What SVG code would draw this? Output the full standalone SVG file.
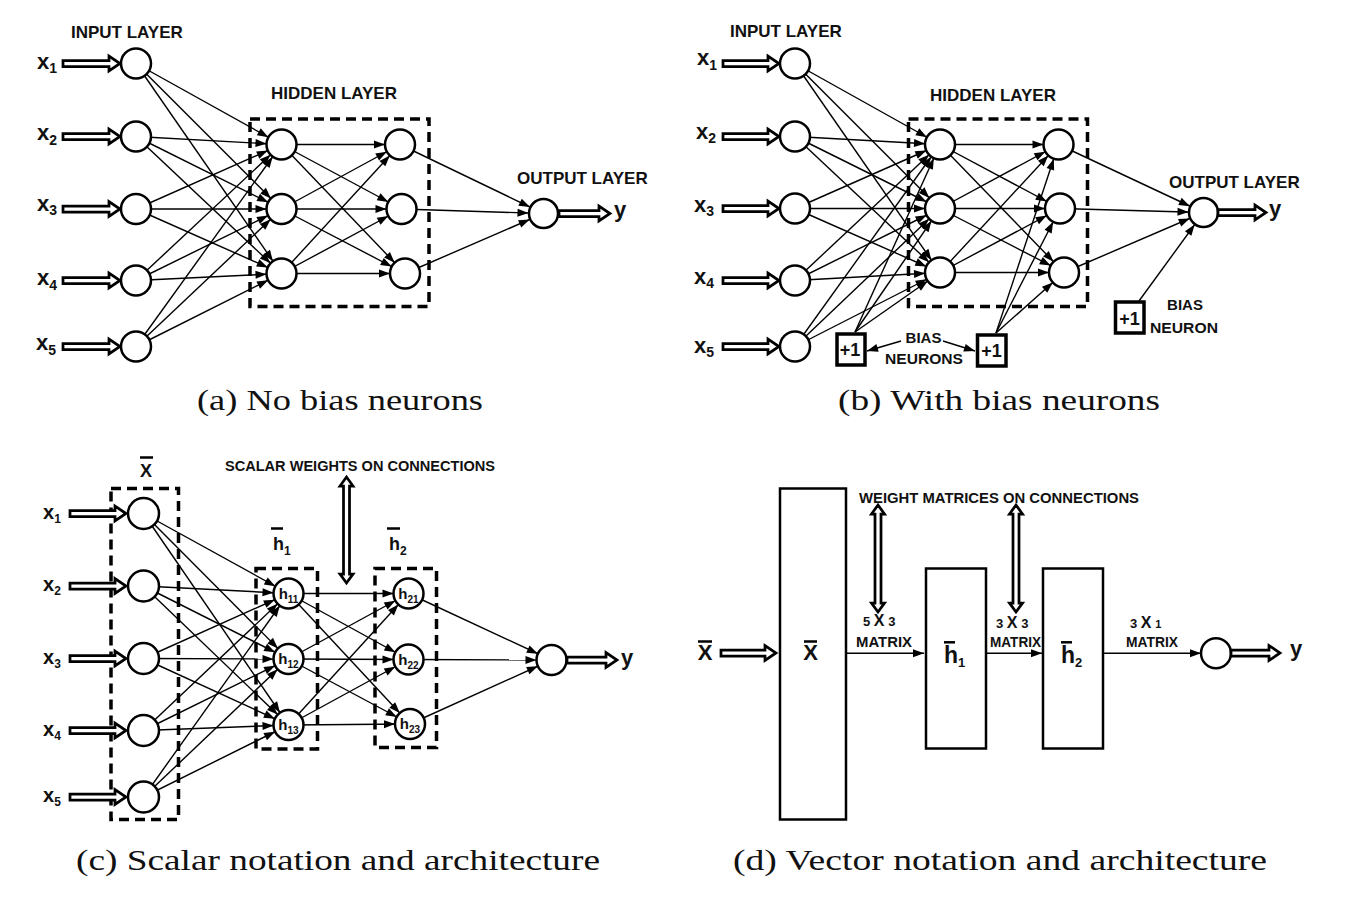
<svg xmlns="http://www.w3.org/2000/svg" width="1360" height="900" viewBox="0 0 1360 900">
<defs>
<marker id="ah" markerUnits="userSpaceOnUse" viewBox="0 0 11 8" markerWidth="11" markerHeight="8" refX="26" refY="4" orient="auto" overflow="visible"><path d="M0,0 L11,4 L0,8 z" fill="#000"/></marker>
<marker id="at" markerUnits="userSpaceOnUse" viewBox="0 0 11 8" markerWidth="11" markerHeight="8" refX="11" refY="4" orient="auto" overflow="visible"><path d="M0,0 L11,4 L0,8 z" fill="#000"/></marker>
</defs>
<style>
.n{fill:#fff;stroke:#000;stroke-width:2.5}
.e line{stroke:#000;stroke-width:1.4;marker-end:url(#ah)}
.et line{stroke:#000;stroke-width:1.4;marker-end:url(#at)}
.dash{fill:none;stroke:#000;stroke-width:3.5;stroke-dasharray:10 6}
.rect{fill:#fff;stroke:#000;stroke-width:2.5}
.ha{fill:#fff;stroke:#000;stroke-width:2.75;stroke-linejoin:miter}
.box{fill:#fff;stroke:#000;stroke-width:3.5}
.ob{stroke:#000;stroke-width:2.5}
.lbl{font-family:"Liberation Sans",Arial,sans-serif;font-weight:bold;fill:#111}
.ly{font-size:17px}
.xl{font-size:22px}
.xs{font-size:14px}
.xlc{font-size:20px}
.xsc{font-size:12px}
.hn{font-size:15px}
.hs{font-size:10px}
.sm{font-size:14.5px}
.bi{font-size:15px}
.p1{font-size:18px}
.cap{font-family:"Liberation Serif","Times New Roman",serif;font-size:30px;fill:#111}
</style>
<rect width="1360" height="900" fill="#fff"/>

<!-- ================= PANEL A ================= -->
<g id="panel-a">
<text class="lbl ly" x="71" y="38">INPUT LAYER</text>
<text class="lbl ly" x="271" y="99">HIDDEN LAYER</text>
<text class="lbl ly" x="517" y="184">OUTPUT LAYER</text>
<rect id="a-hidden-box" class="dash" x="250" y="119" width="179" height="187.5"/>
<g id="a-connectors" class="e">
<line x1="136" y1="63.5" x2="281.5" y2="144.5"/><line x1="136" y1="63.5" x2="281.5" y2="209"/><line x1="136" y1="63.5" x2="281.5" y2="273.5"/>
<line x1="136" y1="136.5" x2="281.5" y2="144.5"/><line x1="136" y1="136.5" x2="281.5" y2="209"/><line x1="136" y1="136.5" x2="281.5" y2="273.5"/>
<line x1="136" y1="209" x2="281.5" y2="144.5"/><line x1="136" y1="209" x2="281.5" y2="209"/><line x1="136" y1="209" x2="281.5" y2="273.5"/>
<line x1="136" y1="280.5" x2="281.5" y2="144.5"/><line x1="136" y1="280.5" x2="281.5" y2="209"/><line x1="136" y1="280.5" x2="281.5" y2="273.5"/>
<line x1="136" y1="346.5" x2="281.5" y2="144.5"/><line x1="136" y1="346.5" x2="281.5" y2="209"/><line x1="136" y1="346.5" x2="281.5" y2="273.5"/>
<line x1="281.5" y1="144.5" x2="400" y2="144.5"/><line x1="281.5" y1="144.5" x2="401.5" y2="209"/><line x1="281.5" y1="144.5" x2="405" y2="273.5"/>
<line x1="281.5" y1="209" x2="400" y2="144.5"/><line x1="281.5" y1="209" x2="401.5" y2="209"/><line x1="281.5" y1="209" x2="405" y2="273.5"/>
<line x1="281.5" y1="273.5" x2="400" y2="144.5"/><line x1="281.5" y1="273.5" x2="401.5" y2="209"/><line x1="281.5" y1="273.5" x2="405" y2="273.5"/>
<line x1="400" y1="144.5" x2="543.5" y2="213.5"/><line x1="401.5" y1="209" x2="543.5" y2="213.5"/><line x1="405" y1="273.5" x2="543.5" y2="213.5"/>
</g>
<g id="a-x1"><text class="lbl xl" x="37" y="68.5">x<tspan class="xs" dy="4.5">1</tspan></text><path class="ha" d="M63,60.5 H109 V56 L120,63.5 L109,71 V66.5 H63 Z"/><circle class="n" cx="136" cy="63.5" r="15"/></g>
<g id="a-x2"><text class="lbl xl" x="37" y="140">x<tspan class="xs" dy="4.5">2</tspan></text><path class="ha" d="M63,133.5 H109 V129 L120,136.5 L109,144 V139.5 H63 Z"/><circle class="n" cx="136" cy="136.5" r="15"/></g>
<g id="a-x3"><text class="lbl xl" x="37" y="210.5">x<tspan class="xs" dy="4.5">3</tspan></text><path class="ha" d="M63,206 H109 V201.5 L120,209 L109,216.5 V212 H63 Z"/><circle class="n" cx="136" cy="209" r="15"/></g>
<g id="a-x4"><text class="lbl xl" x="37" y="285">x<tspan class="xs" dy="4.5">4</tspan></text><path class="ha" d="M63,277.5 H109 V273 L120,280.5 L109,288 V283.5 H63 Z"/><circle class="n" cx="136" cy="280.5" r="15"/></g>
<g id="a-x5"><text class="lbl xl" x="36" y="350">x<tspan class="xs" dy="4.5">5</tspan></text><path class="ha" d="M63,343.5 H109 V339 L120,346.5 L109,354 V349.5 H63 Z"/><circle class="n" cx="136" cy="346.5" r="15"/></g>
<g id="a-h11"><circle class="n" cx="281.5" cy="144.5" r="15"/></g>
<g id="a-h12"><circle class="n" cx="281.5" cy="209" r="15"/></g>
<g id="a-h13"><circle class="n" cx="281.5" cy="273.5" r="15"/></g>
<g id="a-h21"><circle class="n" cx="400" cy="144.5" r="15"/></g>
<g id="a-h22"><circle class="n" cx="401.5" cy="209" r="15"/></g>
<g id="a-h23"><circle class="n" cx="405" cy="273.5" r="15"/></g>
<g id="a-out"><circle class="n" cx="543.5" cy="213.5" r="14.5"/><path class="ha" d="M559,210.5 H599 V206 L610,213.5 L599,221 V216.5 H559 Z"/><text class="lbl xl" x="614" y="216.5">y</text></g>
<text class="cap" x="197" y="410" textLength="286" lengthAdjust="spacingAndGlyphs">(a) No bias neurons</text>
</g>

<!-- ================= PANEL B ================= -->
<g id="panel-b">
<text class="lbl ly" x="730" y="37">INPUT LAYER</text>
<text class="lbl ly" x="930" y="101">HIDDEN LAYER</text>
<text class="lbl ly" x="1169" y="188">OUTPUT LAYER</text>
<rect id="b-hidden-box" class="dash" x="908.5" y="119" width="179" height="187.5"/>
<g id="b-connectors" class="e">
<line x1="795" y1="63.5" x2="940" y2="144.5"/><line x1="795" y1="63.5" x2="940" y2="208.5"/><line x1="795" y1="63.5" x2="940" y2="272.5"/>
<line x1="795" y1="136.5" x2="940" y2="144.5"/><line x1="795" y1="136.5" x2="940" y2="208.5"/><line x1="795" y1="136.5" x2="940" y2="272.5"/>
<line x1="795" y1="208.5" x2="940" y2="144.5"/><line x1="795" y1="208.5" x2="940" y2="208.5"/><line x1="795" y1="208.5" x2="940" y2="272.5"/>
<line x1="795" y1="280.5" x2="940" y2="144.5"/><line x1="795" y1="280.5" x2="940" y2="208.5"/><line x1="795" y1="280.5" x2="940" y2="272.5"/>
<line x1="795" y1="346.5" x2="940" y2="144.5"/><line x1="795" y1="346.5" x2="940" y2="208.5"/><line x1="795" y1="346.5" x2="940" y2="272.5"/>
<line x1="855" y1="332" x2="940" y2="144.5"/><line x1="855" y1="332" x2="940" y2="208.5"/><line x1="855" y1="332" x2="940" y2="272.5"/>
<line x1="940" y1="144.5" x2="1058.5" y2="144.5"/><line x1="940" y1="144.5" x2="1060" y2="208.5"/><line x1="940" y1="144.5" x2="1064" y2="272.5"/>
<line x1="940" y1="208.5" x2="1058.5" y2="144.5"/><line x1="940" y1="208.5" x2="1060" y2="208.5"/><line x1="940" y1="208.5" x2="1064" y2="272.5"/>
<line x1="940" y1="272.5" x2="1058.5" y2="144.5"/><line x1="940" y1="272.5" x2="1060" y2="208.5"/><line x1="940" y1="272.5" x2="1064" y2="272.5"/>
<line x1="996" y1="333" x2="1058.5" y2="144.5"/><line x1="996" y1="333" x2="1060" y2="208.5"/><line x1="996" y1="333" x2="1064" y2="272.5"/>
<line x1="1058.5" y1="144.5" x2="1203.5" y2="212.5"/><line x1="1060" y1="208.5" x2="1203.5" y2="212.5"/><line x1="1064" y1="272.5" x2="1203.5" y2="212.5"/>
<line x1="1139" y1="301" x2="1203.5" y2="212.5"/>
</g>
<g id="b-bias-label-arrows" class="et">
<line x1="901" y1="341" x2="867" y2="351"/>
<line x1="943" y1="341" x2="975" y2="351"/>
</g>
<g id="b-x1"><text class="lbl xl" x="697" y="65">x<tspan class="xs" dy="4.5">1</tspan></text><path class="ha" d="M723,60.5 H768 V56 L779,63.5 L768,71 V66.5 H723 Z"/><circle class="n" cx="795" cy="63.5" r="15"/></g>
<g id="b-x2"><text class="lbl xl" x="696" y="138.5">x<tspan class="xs" dy="4.5">2</tspan></text><path class="ha" d="M723,133.5 H768 V129 L779,136.5 L768,144 V139.5 H723 Z"/><circle class="n" cx="795" cy="136.5" r="15"/></g>
<g id="b-x3"><text class="lbl xl" x="694" y="211.5">x<tspan class="xs" dy="4.5">3</tspan></text><path class="ha" d="M723,205.5 H768 V201 L779,208.5 L768,216 V211.5 H723 Z"/><circle class="n" cx="795" cy="208.5" r="15"/></g>
<g id="b-x4"><text class="lbl xl" x="694" y="283.5">x<tspan class="xs" dy="4.5">4</tspan></text><path class="ha" d="M723,277.5 H768 V273 L779,280.5 L768,288 V283.5 H723 Z"/><circle class="n" cx="795" cy="280.5" r="15"/></g>
<g id="b-x5"><text class="lbl xl" x="694" y="352.5">x<tspan class="xs" dy="4.5">5</tspan></text><path class="ha" d="M723,343.5 H768 V339 L779,346.5 L768,354 V349.5 H723 Z"/><circle class="n" cx="795" cy="346.5" r="15"/></g>
<g id="b-h11"><circle class="n" cx="940" cy="144.5" r="15"/></g>
<g id="b-h12"><circle class="n" cx="940" cy="208.5" r="15"/></g>
<g id="b-h13"><circle class="n" cx="940" cy="272.5" r="15"/></g>
<g id="b-h21"><circle class="n" cx="1058.5" cy="144.5" r="15"/></g>
<g id="b-h22"><circle class="n" cx="1060" cy="208.5" r="15"/></g>
<g id="b-h23"><circle class="n" cx="1064" cy="272.5" r="15"/></g>
<g id="b-out"><circle class="n" cx="1203.5" cy="212.5" r="14.5"/><path class="ha" d="M1218,209.5 H1255 V205 L1266,212.5 L1255,220 V215.5 H1218 Z"/><text class="lbl xl" x="1269" y="216">y</text></g>
<g id="b-bias1"><rect class="box" x="837" y="334" width="28" height="31"/><text class="lbl p1" x="850" y="356" text-anchor="middle">+1</text></g>
<g id="b-bias2"><rect class="box" x="977.5" y="335" width="28.5" height="31"/><text class="lbl p1" x="991.5" y="357" text-anchor="middle">+1</text></g>
<g id="b-bias3"><rect class="box" x="1115.5" y="302" width="28.5" height="31"/><text class="lbl p1" x="1129.5" y="325" text-anchor="middle">+1</text></g>
<text class="lbl bi" x="923.5" y="343.3" text-anchor="middle">BIAS</text>
<text class="lbl bi" x="924" y="364.3" text-anchor="middle" textLength="78" lengthAdjust="spacingAndGlyphs">NEURONS</text>
<text class="lbl bi" x="1185" y="310" text-anchor="middle">BIAS</text>
<text class="lbl bi" x="1184" y="332.7" text-anchor="middle" textLength="68" lengthAdjust="spacingAndGlyphs">NEURON</text>
<text class="cap" x="838" y="410" textLength="322" lengthAdjust="spacingAndGlyphs">(b) With bias neurons</text>
</g>

<!-- ================= PANEL C ================= -->
<g id="panel-c">
<text class="lbl" x="146" y="476.7" font-size="18" text-anchor="middle">X</text>
<line class="ob" x1="140" y1="457.5" x2="153" y2="457.5"/>
<text class="lbl sm" x="225" y="470.5" textLength="270" lengthAdjust="spacingAndGlyphs">SCALAR WEIGHTS ON CONNECTIONS</text>
<path id="c-weight-arrow" class="ha" d="M346.5,477 L353,486 H349.5 V574 H353 L346.5,583 L340,574 H343.5 V486 H340 Z"/>
<text class="lbl" x="273" y="550" font-size="18">h<tspan font-size="12" dy="5">1</tspan></text>
<line class="ob" x1="271" y1="528.5" x2="283" y2="528.5"/>
<text class="lbl" x="389" y="550" font-size="18">h<tspan font-size="12" dy="5">2</tspan></text>
<line class="ob" x1="387" y1="528.5" x2="400" y2="528.5"/>
<rect id="c-x-box" class="dash" x="111" y="488.5" width="67.5" height="331"/>
<rect id="c-h1-box" class="dash" x="256" y="568.5" width="61.5" height="180.5"/>
<rect id="c-h2-box" class="dash" x="375" y="568.5" width="61.5" height="179"/>
<g id="c-connectors" class="e">
<line x1="143.5" y1="513.5" x2="288.5" y2="593.5"/><line x1="143.5" y1="513.5" x2="288.5" y2="659"/><line x1="143.5" y1="513.5" x2="288.5" y2="725"/>
<line x1="143.5" y1="586" x2="288.5" y2="593.5"/><line x1="143.5" y1="586" x2="288.5" y2="659"/><line x1="143.5" y1="586" x2="288.5" y2="725"/>
<line x1="143.5" y1="658.5" x2="288.5" y2="593.5"/><line x1="143.5" y1="658.5" x2="288.5" y2="659"/><line x1="143.5" y1="658.5" x2="288.5" y2="725"/>
<line x1="143.5" y1="730.5" x2="288.5" y2="593.5"/><line x1="143.5" y1="730.5" x2="288.5" y2="659"/><line x1="143.5" y1="730.5" x2="288.5" y2="725"/>
<line x1="143.5" y1="797" x2="288.5" y2="593.5"/><line x1="143.5" y1="797" x2="288.5" y2="659"/><line x1="143.5" y1="797" x2="288.5" y2="725"/>
<line x1="288.5" y1="593.5" x2="408.5" y2="593.5"/><line x1="288.5" y1="593.5" x2="408.5" y2="659.5"/><line x1="288.5" y1="593.5" x2="410" y2="724"/>
<line x1="288.5" y1="659" x2="408.5" y2="593.5"/><line x1="288.5" y1="659" x2="408.5" y2="659.5"/><line x1="288.5" y1="659" x2="410" y2="724"/>
<line x1="288.5" y1="725" x2="408.5" y2="593.5"/><line x1="288.5" y1="725" x2="408.5" y2="659.5"/><line x1="288.5" y1="725" x2="410" y2="724"/>
<line x1="408.5" y1="593.5" x2="551.5" y2="660"/><line x1="408.5" y1="659.5" x2="551.5" y2="660"/><line x1="410" y1="724" x2="551.5" y2="660"/>
</g>
<g id="c-x1"><text class="lbl xlc" x="43" y="518.5">x<tspan class="xsc" dy="4">1</tspan></text><path class="ha" d="M70,510.5 H115 V506 L126,513.5 L115,521 V516.5 H70 Z"/><circle class="n" cx="143.5" cy="513.5" r="15.5"/></g>
<g id="c-x2"><text class="lbl xlc" x="43" y="591">x<tspan class="xsc" dy="4">2</tspan></text><path class="ha" d="M70,583 H115 V578.5 L126,586 L115,593.5 V589 H70 Z"/><circle class="n" cx="143.5" cy="586" r="15.5"/></g>
<g id="c-x3"><text class="lbl xlc" x="43" y="663.5">x<tspan class="xsc" dy="4">3</tspan></text><path class="ha" d="M70,655.5 H115 V651 L126,658.5 L115,666 V661.5 H70 Z"/><circle class="n" cx="143.5" cy="658.5" r="15.5"/></g>
<g id="c-x4"><text class="lbl xlc" x="43" y="735.5">x<tspan class="xsc" dy="4">4</tspan></text><path class="ha" d="M70,727.5 H115 V723 L126,730.5 L115,738 V733.5 H70 Z"/><circle class="n" cx="143.5" cy="730.5" r="15.5"/></g>
<g id="c-x5"><text class="lbl xlc" x="43" y="802">x<tspan class="xsc" dy="4">5</tspan></text><path class="ha" d="M70,794 H115 V789.5 L126,797 L115,804.5 V800 H70 Z"/><circle class="n" cx="143.5" cy="797" r="15.5"/></g>
<g id="c-h11"><circle class="n" cx="288.5" cy="593.5" r="15"/><text class="lbl hn" x="288.5" y="598.5" text-anchor="middle">h<tspan class="hs" dy="4">11</tspan></text></g>
<g id="c-h12"><circle class="n" cx="288.5" cy="659" r="15"/><text class="lbl hn" x="288.5" y="664" text-anchor="middle">h<tspan class="hs" dy="4">12</tspan></text></g>
<g id="c-h13"><circle class="n" cx="288.5" cy="725" r="15"/><text class="lbl hn" x="288.5" y="730" text-anchor="middle">h<tspan class="hs" dy="4">13</tspan></text></g>
<g id="c-h21"><circle class="n" cx="408.5" cy="593.5" r="15"/><text class="lbl hn" x="408.5" y="598.5" text-anchor="middle">h<tspan class="hs" dy="4">21</tspan></text></g>
<g id="c-h22"><circle class="n" cx="408.5" cy="659.5" r="15"/><text class="lbl hn" x="408.5" y="664.5" text-anchor="middle">h<tspan class="hs" dy="4">22</tspan></text></g>
<g id="c-h23"><circle class="n" cx="410" cy="724" r="15"/><text class="lbl hn" x="410" y="729" text-anchor="middle">h<tspan class="hs" dy="4">23</tspan></text></g>
<g id="c-out"><circle class="n" cx="551.5" cy="660" r="15"/><path class="ha" d="M567,657 H606 V652.5 L617,660 L606,667.5 V663 H567 Z"/><text class="lbl xl" x="621" y="664.5">y</text></g>
<text class="cap" x="76" y="870" textLength="524" lengthAdjust="spacingAndGlyphs">(c) Scalar notation and architecture</text>
</g>

<!-- ================= PANEL D ================= -->
<g id="panel-d">
<text class="lbl sm" x="859" y="503" textLength="280" lengthAdjust="spacingAndGlyphs">WEIGHT MATRICES ON CONNECTIONS</text>
<path id="d-weight-arrow1" class="ha" d="M878,505 L884.5,514 H881 V603 H884.5 L878,612 L871.5,603 H875 V514 H871.5 Z"/>
<path id="d-weight-arrow2" class="ha" d="M1016,505 L1022.5,514 H1019 V603 H1022.5 L1016,612 L1009.5,603 H1013 V514 H1009.5 Z"/>
<g id="d-in"><text class="lbl" x="705" y="660" font-size="22" text-anchor="middle">X</text><line class="ob" x1="698" y1="641.5" x2="712" y2="641.5"/><path class="ha" d="M721,650 H765 V645.5 L776,653 L765,660.5 V656 H721 Z"/></g>
<g id="d-connectors" class="et">
<line x1="846" y1="653.3" x2="924" y2="653.3"/>
<line x1="986" y1="653.3" x2="1042" y2="653.3"/>
<line x1="1103" y1="653.3" x2="1201" y2="653.3"/>
</g>
<g id="d-x"><rect class="rect" x="780" y="488.5" width="66" height="331"/><text class="lbl" x="810.5" y="660" font-size="22" text-anchor="middle">X</text><line class="ob" x1="804" y1="641.5" x2="817" y2="641.5"/></g>
<g id="d-h1"><rect class="rect" x="926" y="568.5" width="60" height="180"/><text class="lbl" x="944" y="663" font-size="23">h<tspan font-size="13" dy="4">1</tspan></text><line class="ob" x1="944" y1="642.3" x2="955" y2="642.3"/></g>
<g id="d-h2"><rect class="rect" x="1043" y="568.5" width="60" height="180"/><text class="lbl" x="1061" y="663" font-size="23">h<tspan font-size="13" dy="4">2</tspan></text><line class="ob" x1="1061" y1="642.3" x2="1072" y2="642.3"/></g>
<text class="lbl" x="863" y="626" font-size="13">5 <tspan font-size="16">X</tspan> 3</text>
<text class="lbl" x="856" y="646.7" font-size="14.5" textLength="56" lengthAdjust="spacingAndGlyphs">MATRIX</text>
<text class="lbl" x="996" y="628" font-size="13">3 <tspan font-size="16">X</tspan> 3</text>
<text class="lbl" x="990" y="646.7" font-size="14" textLength="51" lengthAdjust="spacingAndGlyphs">MATRIX</text>
<text class="lbl" x="1130" y="628" font-size="13">3 <tspan font-size="16">X</tspan> <tspan font-size="11">1</tspan></text>
<text class="lbl" x="1126" y="646.7" font-size="14" textLength="52" lengthAdjust="spacingAndGlyphs">MATRIX</text>
<g id="d-out"><circle class="n" cx="1216" cy="653.3" r="15"/><path class="ha" d="M1231,650 H1269 V645.5 L1280,653 L1269,660.5 V656 H1231 Z"/><text class="lbl xl" x="1290" y="656">y</text></g>
<text class="cap" x="733" y="870" textLength="534" lengthAdjust="spacingAndGlyphs">(d) Vector notation and architecture</text>
</g>
</svg>
